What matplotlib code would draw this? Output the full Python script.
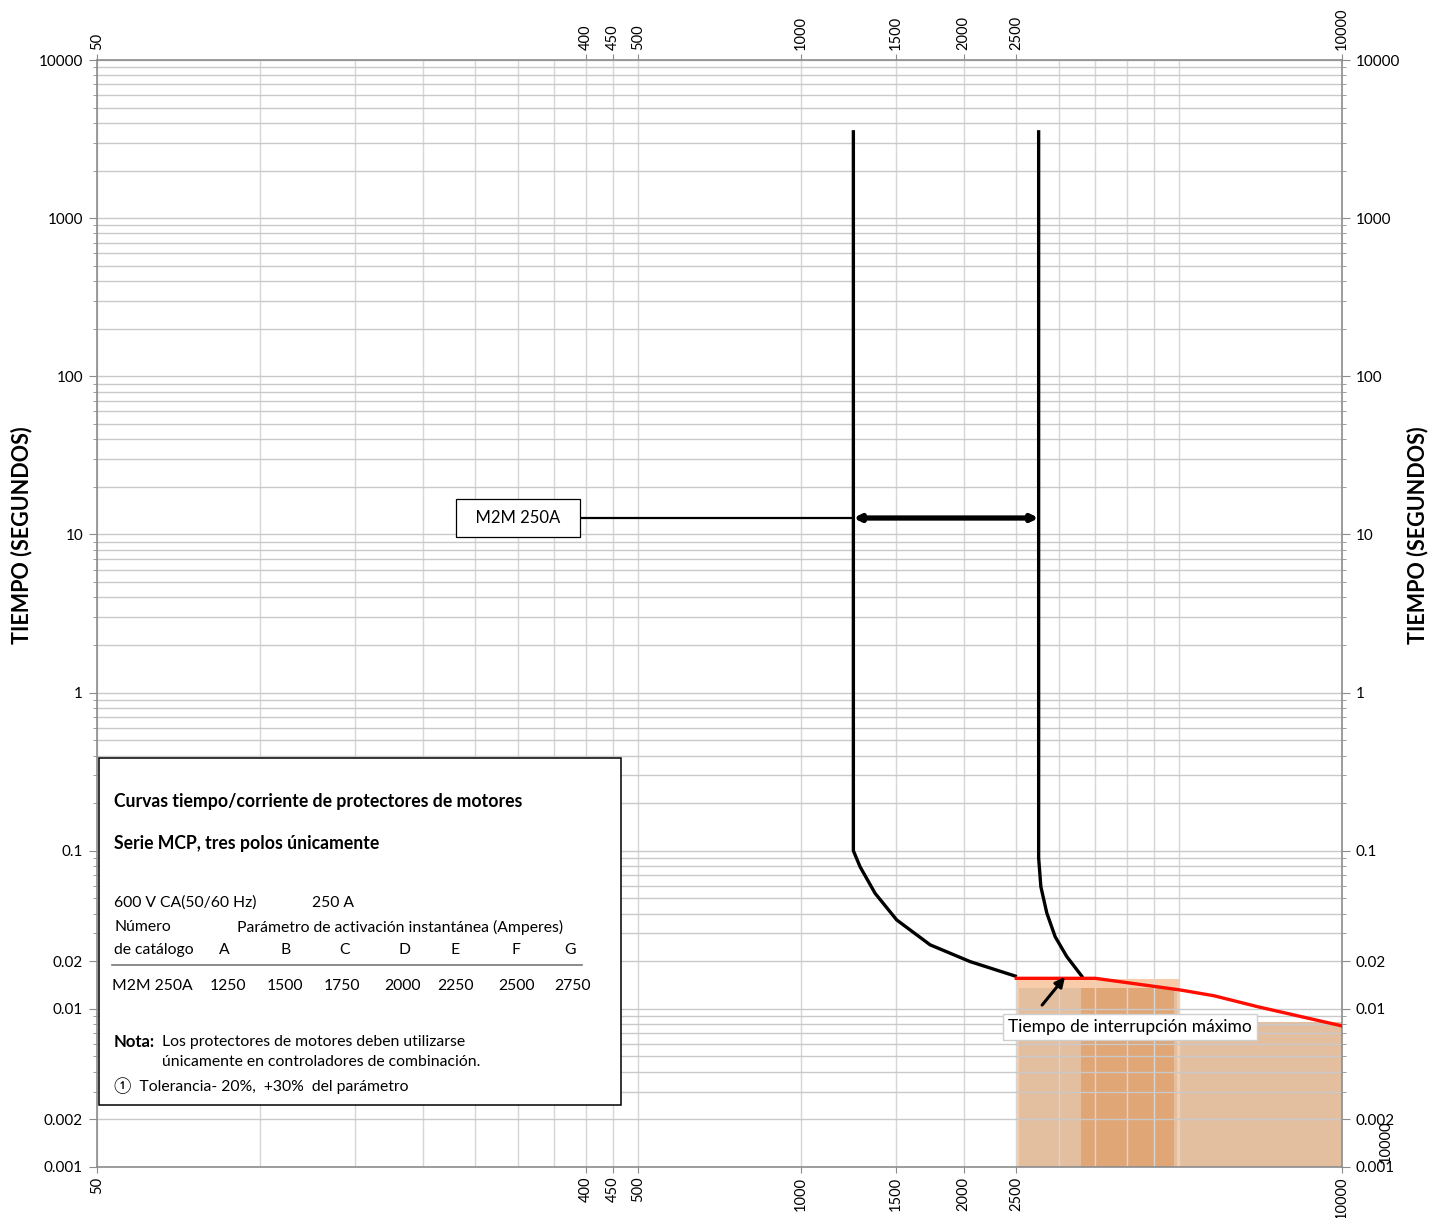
import matplotlib
matplotlib.use('Agg')
import matplotlib.pyplot as plt
from matplotlib.patches import Rectangle
from matplotlib.ticker import FixedLocator, FixedFormatter, LogLocator, NullFormatter

plt.rcParams['font.family'] = ['Lato', 'DejaVu Sans', 'Noto Sans CJK JP']

# --- data ---
x_tick_labels = [50, 400, 450, 500, 1000, 1500, 2000, 2500, 10000]
x_grid = [100, 150, 200, 250, 300, 350, 400, 450, 500,
          1000, 1500, 2000, 2500, 3000, 3500, 4000, 4500, 5000]
y_tick_labels = [0.001, 0.002, 0.01, 0.02, 0.1, 1, 10, 100, 1000, 10000]
y_tick_text = ['0.001', '0.002', '0.01', '0.02', '0.1', '1', '10', '100', '1000', '10000']

# curve for setting A (1250 A)
curve_a_x = [1250, 1250, 1286, 1371, 1503, 1733, 2054, 2506]
curve_a_y = [3600, 0.1, 0.0792, 0.0538, 0.0365, 0.0254, 0.0199, 0.0160]
# curve for setting G (2750 A)
curve_g_x = [2750, 2750, 2776, 2847, 2950, 3100, 3318]
curve_g_y = [3600, 0.09, 0.0592, 0.0404, 0.0286, 0.0214, 0.0158]
# maximum interruption time
red_x = [2500, 3500, 5000, 5800, 7000, 10000]
red_y = [0.0156, 0.0156, 0.0132, 0.0121, 0.0103, 0.0078]

# shaded zones under the red line (x start, x end, top)
shade_peach = (2500, 5000, 0.0155)
shade_tan = (2530, 4950, 0.0135)
shade_dark = (3300, 4900, 0.0135)
shade_right = (5000, 10000, 0.0082)

range_y = 12.7
catalog = 'M2M 250A'
columns = ['A', 'B', 'C', 'D', 'E', 'F', 'G']
settings = [1250, 1500, 1750, 2000, 2250, 2500, 2750]

W, H = 1445, 1218
fig = plt.figure(figsize=(W / 100, H / 100), dpi=100)
ax = fig.add_axes([97 / W, 1 - 1167 / H, (1342 - 97) / W, (1167 - 60) / H])
ax.set_xscale('log')
ax.set_yscale('log')
ax.set_xlim(50, 10000)
ax.set_ylim(0.001, 10000)

def px(x, y):
    return x / W, 1 - y / H

# grid
ax.xaxis.set_major_locator(FixedLocator(x_tick_labels))
ax.xaxis.set_major_formatter(FixedFormatter([str(v) for v in x_tick_labels]))
ax.xaxis.set_minor_locator(FixedLocator(x_grid))
ax.xaxis.set_minor_formatter(NullFormatter())
ax.yaxis.set_major_locator(FixedLocator(y_tick_labels))
ax.yaxis.set_major_formatter(FixedFormatter(y_tick_text))
ax.yaxis.set_minor_locator(LogLocator(base=10, subs=range(2, 10)))
ax.yaxis.set_minor_formatter(NullFormatter())
ax.grid(which='both', axis='x', color='#d6d6d6', lw=1)
ax.grid(which='both', axis='y', color='#c9c9c9', lw=1)
ax.set_axisbelow('line')

for s in ax.spines.values():
    s.set_color('#8c8c8c')
    s.set_linewidth(1.2)

ax.tick_params(axis='x', which='major', labeltop=True, top=True, bottom=True,
               labelrotation=90, labelsize=10.5, length=4, color='#8c8c8c', pad=3)
ax.tick_params(axis='x', which='minor', length=0)
ax.tick_params(axis='y', which='major', left=True, right=True, labelright=True,
               labelsize=11, length=6, color='#8c8c8c', pad=4)
ax.tick_params(axis='y', which='minor', left=True, right=True, length=3, color='#8c8c8c')

# shaded areas
for (x0, x1, top), col in [(shade_peach, '#f8cca8'), (shade_tan, '#e3be9f'),
                           (shade_dark, '#e0a676'), (shade_right, '#e3be9f')]:
    ax.fill_between([x0, x1], [0.001, 0.001], [top, top], color=col, lw=0, zorder=1)

# curves
ax.plot(curve_a_x, curve_a_y, color='black', lw=2.4, zorder=3, solid_capstyle='butt')
ax.plot(curve_g_x, curve_g_y, color='black', lw=2.4, zorder=3, solid_capstyle='butt')
ax.plot(red_x, red_y, color='#ff0d00', lw=2.4, zorder=3)

# range arrow
ax.annotate('', xy=(settings[-1], range_y), xytext=(settings[0], range_y),
            arrowprops=dict(arrowstyle='<|-|>', lw=3.8, color='black',
                            mutation_scale=9, shrinkA=0, shrinkB=0), zorder=4)
ax.plot([392, settings[0]], [range_y, range_y], color='black', lw=1.6, zorder=4)
ax.text(300, range_y, '  ' + catalog + '  ', fontsize=12, ha='center', va='center',
        zorder=5, bbox=dict(boxstyle='square,pad=0.65', fc='white', ec='black', lw=0.9))

# maximum interruption time label
ax.annotate('', xy=(3076, 0.0159), xytext=(2791, 0.01057),
            arrowprops=dict(arrowstyle='-|>', lw=2.2, color='black',
                            mutation_scale=14, shrinkA=0, shrinkB=0), zorder=5)
ax.text(4060, 0.0077, 'Tiempo de interrupción máximo', fontsize=12.5, ha='center',
        va='center', zorder=5,
        bbox=dict(boxstyle='square,pad=0.3', fc='white', ec='#cfcfcf', lw=1))

# info box
ax.add_patch(Rectangle((0.0016, 0.056), 0.4193, 0.3135, transform=ax.transAxes,
                       fc='white', ec='black', lw=1.1, zorder=6))

fs = 11.3
bfs = 12.7
fig.text(*px(114, 802), 'Curvas tiempo/corriente de protectores de motores',
         fontsize=bfs, fontweight='bold', va='center')
fig.text(*px(114, 843), 'Serie MCP, tres polos únicamente',
         fontsize=bfs, fontweight='bold', va='center')
fig.text(*px(114, 903), '600 V CA(50/60 Hz)', fontsize=fs, va='center')
fig.text(*px(312, 903), '250 A', fontsize=fs, va='center')
fig.text(*px(114, 927), 'Número', fontsize=fs, va='center')
fig.text(*px(237, 927), 'Parámetro de activación instantánea (Amperes)', fontsize=fs, va='center')
fig.text(*px(114, 950), 'de catálogo', fontsize=fs, va='center')
col_x = [224, 286, 344, 404, 455, 516, 570]
val_x = [228, 285, 342, 402, 455, 516, 572]
for c, v, cx, vx in zip(columns, settings, col_x, val_x):
    fig.text(*px(cx, 950), c, fontsize=fs, va='center', ha='center')
    fig.text(*px(vx, 986), str(v), fontsize=fs, va='center', ha='center')
fig.text(*px(112, 986), catalog, fontsize=fs, va='center')
fig.add_artist(plt.Line2D([112 / W, 582 / W], [1 - 965 / H, 1 - 965 / H],
                          color='#777777', lw=1.2, zorder=7))
fig.text(*px(114, 1042), 'Nota:', fontsize=12, fontweight='bold', va='center')
fig.text(*px(162, 1042), 'Los protectores de motores deben utilizarse', fontsize=fs, va='center')
fig.text(*px(162, 1062), 'únicamente en controladores de combinación.', fontsize=fs, va='center')
fig.text(*px(114, 1086), '①  Tolerancia- 20%,  +30%  del parámetro', fontsize=fs, va='center')

# axis titles
fig.text(*px(22, 535), 'TIEMPO (SEGUNDOS)', rotation=90, fontsize=15.5,
         fontweight='bold', ha='center', va='center')
fig.text(*px(1418, 535), 'TIEMPO (SEGUNDOS)', rotation=90, fontsize=15.5,
         fontweight='bold', ha='center', va='center')
# stray label on the right edge
fig.text(*px(1386, 1142), '10000', rotation=90, fontsize=10.5, ha='center', va='center')

fig.savefig('out.png', dpi=100)
